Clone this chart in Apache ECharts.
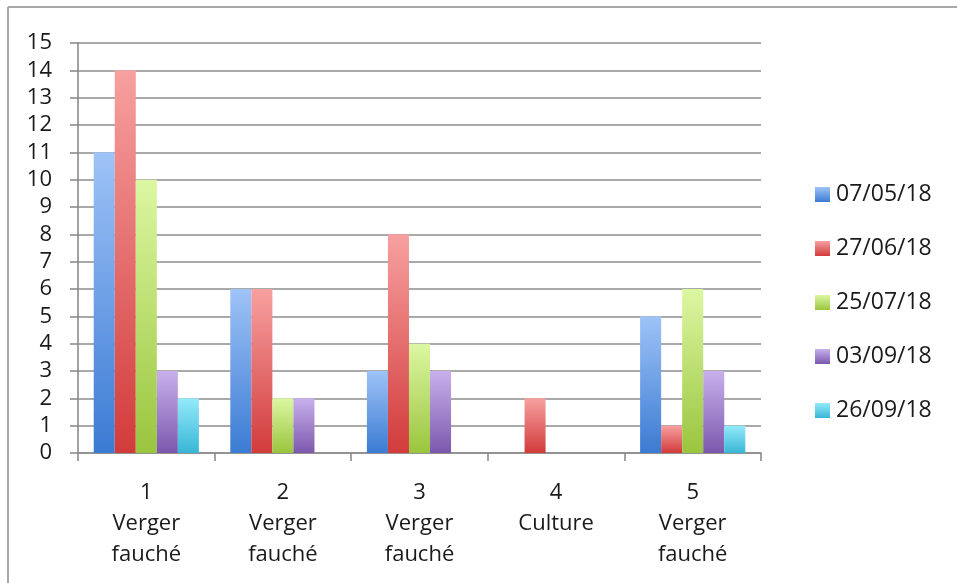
<!DOCTYPE html>
<html>
<head>
<meta charset="utf-8">
<script src="https://cdn.jsdelivr.net/npm/echarts@6/dist/echarts.min.js"></script>
<style>
  html, body { margin: 0; padding: 0; background: #fff; }
  #chart { width: 957px; height: 583px; }
</style>
</head>
<body>
<div id="chart"></div>
<script>
// Parcels (number + land use)
const categories = ['1\nVerger\nfauché', '2\nVerger\nfauché', '3\nVerger\nfauché', '4\nCulture', '5\nVerger\nfauché'];

// Sampling dates
const seriesNames = ['07/05/18', '27/06/18', '25/07/18', '03/09/18', '26/09/18'];

// Counts per sampling date
const s0705 = [11, 6, 3, 0, 5];
const s2706 = [14, 6, 8, 2, 1];
const s2507 = [10, 2, 4, 0, 6];
const s0309 = [3, 2, 3, 0, 3];
const s2609 = [2, 0, 0, 0, 1];

const yTicks = [0, 15, 1];

const values = [s0705, s2706, s2507, s0309, s2609];

// light (top) → dark (bottom) gradient per series
const palette = [
  ['#9ec3f7', '#3b7bd3'],
  ['#f7a0a0', '#d23b3b'],
  ['#dcf7a2', '#9ac53e'],
  ['#c8b0ec', '#7c58ad'],
  ['#95eafa', '#37b6d6']
];

function grad(c) {
  return new echarts.graphic.LinearGradient(0, 0, 0, 1, [
    { offset: 0, color: c[0] },
    { offset: 1, color: c[1] }
  ]);
}

const chart = echarts.init(document.getElementById('chart'), null, { renderer: 'canvas' });

const font = "'Open Sans', 'Noto Sans', sans-serif";
const axisGray = '#8c8c8c';

chart.setOption({
  animation: false,
  textStyle: { fontFamily: font },
  graphic: [
    { type: 'line', shape: { x1: 8, y1: 7, x2: 957, y2: 7 }, style: { stroke: '#a8a8a8', lineWidth: 2 } },
    { type: 'line', shape: { x1: 8, y1: 7, x2: 8, y2: 583 }, style: { stroke: '#a8a8a8', lineWidth: 2 } }
  ],
  grid: { left: 78, right: 196, top: 43, bottom: 130, containLabel: false },
  legend: {
    orient: 'vertical',
    left: 810,
    top: 178,
    icon: 'rect',
    itemWidth: 15,
    itemHeight: 15,
    itemGap: 31,
    data: seriesNames,
    textStyle: { fontSize: 23, color: '#1a1a1a', fontFamily: font, padding: [0, 0, 0, 1] }
  },
  xAxis: {
    type: 'category',
    data: categories,
    axisLine: { show: true, lineStyle: { color: axisGray, width: 1.6 } },
    axisTick: { show: true, length: 8, alignWithLabel: false, lineStyle: { color: axisGray, width: 1.6 } },
    axisLabel: { fontSize: 22, color: '#1a1a1a', lineHeight: 31, margin: 24, interval: 0, fontFamily: font }
  },
  yAxis: {
    type: 'value',
    min: yTicks[0],
    max: yTicks[1],
    interval: yTicks[2],
    axisLine: { show: true, lineStyle: { color: axisGray, width: 1.6 } },
    axisTick: { show: true, length: 8, lineStyle: { color: axisGray, width: 1.6 } },
    splitLine: { show: true, lineStyle: { color: axisGray, width: 1.6 } },
    axisLabel: { fontSize: 22, color: '#1a1a1a', margin: 26, fontFamily: font }
  },
  series: seriesNames.map((name, i) => ({
    name: name,
    type: 'bar',
    data: values[i],
    barGap: '0%',
    barCategoryGap: '23%',
    itemStyle: { color: grad(palette[i]) }
  }))
});
</script>
</body>
</html>
